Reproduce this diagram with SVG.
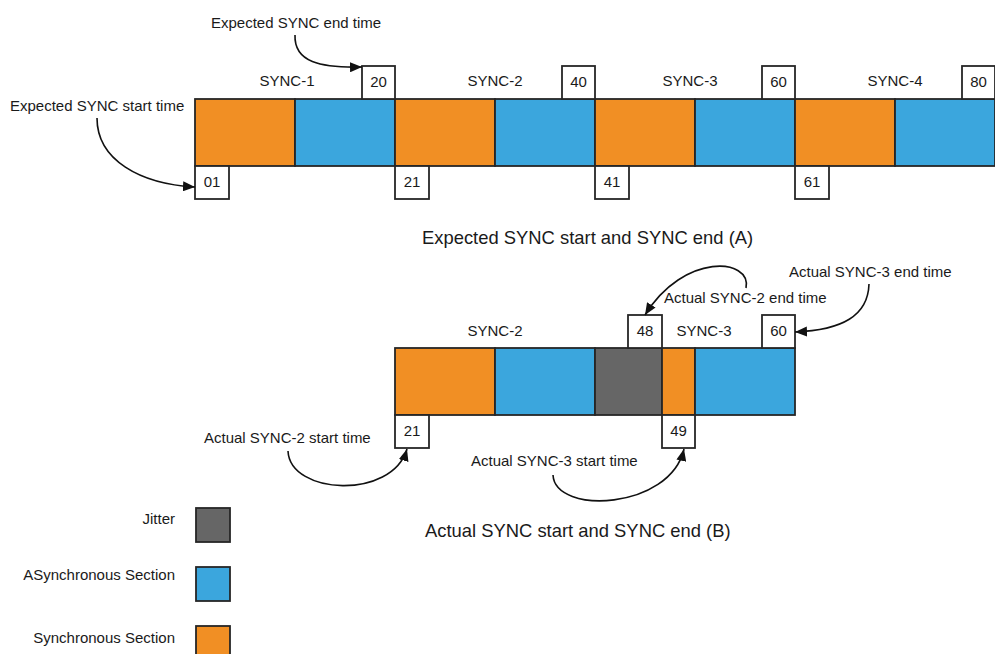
<svg xmlns="http://www.w3.org/2000/svg" width="995" height="654" viewBox="0 0 995 654">
  <style>
    text { font-family: "Liberation Sans", Arial, sans-serif; fill: #1a1a1a; }
    .lbl { font-size: 15px; }
    .num { font-size: 15px; text-anchor: middle; }
    .cap { font-size: 18.4px; }
    .end { text-anchor: end; }
    .sync { fill: #F18F24; stroke: #262626; stroke-width: 1.8; }
    .async { fill: #3BA6DD; stroke: #262626; stroke-width: 1.8; }
    .jit { fill: #666666; stroke: #262626; stroke-width: 1.8; }
    .box { fill: #fff; stroke: #262626; stroke-width: 1.8; }
    .conn { fill: none; stroke: #111; stroke-width: 1.6; marker-end: url(#head); }
  </style>
  <defs>
    <marker id="head" markerUnits="userSpaceOnUse" markerWidth="12" markerHeight="10" refX="12" refY="5" orient="auto">
      <path d="M0,0 L12,5 L0,10 z" fill="#111"/>
    </marker>
  </defs>

  <!-- Expected timeline (A) -->
  <g id="expected-bar">
    <rect class="sync" x="195" y="99" width="100" height="67"/>
    <rect class="async" x="295" y="99" width="100" height="67"/>
    <rect class="sync" x="395" y="99" width="100" height="67"/>
    <rect class="async" x="495" y="99" width="100" height="67"/>
    <rect class="sync" x="595" y="99" width="100" height="67"/>
    <rect class="async" x="695" y="99" width="100" height="67"/>
    <rect class="sync" x="795" y="99" width="100" height="67"/>
    <rect class="async" x="895" y="99" width="100" height="67"/>
  </g>
  <g id="expected-sync-labels">
    <text class="num" x="287" y="86">SYNC-1</text>
    <text class="num" x="495" y="86">SYNC-2</text>
    <text class="num" x="690" y="86">SYNC-3</text>
    <text class="num" x="895" y="86">SYNC-4</text>
  </g>
  <g id="expected-end-marks">
    <rect class="box" x="362" y="66" width="33" height="33"/><text class="num" x="378.5" y="87">20</text>
    <rect class="box" x="562" y="66" width="33" height="33"/><text class="num" x="578.5" y="87">40</text>
    <rect class="box" x="762" y="66" width="33" height="33"/><text class="num" x="778.5" y="87">60</text>
    <rect class="box" x="962" y="66" width="33" height="33"/><text class="num" x="978.5" y="87">80</text>
  </g>
  <g id="expected-start-marks">
    <rect class="box" x="195" y="166" width="34" height="33"/><text class="num" x="212" y="187">01</text>
    <rect class="box" x="395" y="166" width="34" height="33"/><text class="num" x="412" y="187">21</text>
    <rect class="box" x="595" y="166" width="34" height="33"/><text class="num" x="612" y="187">41</text>
    <rect class="box" x="795" y="166" width="34" height="33"/><text class="num" x="812" y="187">61</text>
  </g>
  <g id="expected-notes">
    <text class="lbl" x="211" y="27.5">Expected SYNC end time</text>
    <text class="lbl" x="10" y="111">Expected SYNC start time</text>
    <text class="cap" x="422" y="244">Expected SYNC start and SYNC end (A)</text>
  </g>

  <!-- Actual timeline (B) -->
  <g id="actual-bar">
    <rect class="sync" x="395" y="348" width="100" height="67"/>
    <rect class="async" x="495" y="348" width="100" height="67"/>
    <rect class="jit" x="595" y="348" width="67" height="67"/>
    <rect class="sync" x="662" y="348" width="33" height="67"/>
    <rect class="async" x="695" y="348" width="100" height="67"/>
  </g>
  <g id="actual-sync-labels">
    <text class="num" x="495" y="336">SYNC-2</text>
    <text class="num" x="704" y="336">SYNC-3</text>
  </g>
  <g id="actual-marks">
    <rect class="box" x="628" y="315" width="34" height="33"/><text class="num" x="645" y="336">48</text>
    <rect class="box" x="762" y="315" width="33" height="33"/><text class="num" x="778.5" y="336">60</text>
    <rect class="box" x="395" y="415" width="34" height="33"/><text class="num" x="412" y="436">21</text>
    <rect class="box" x="662" y="415" width="33" height="33"/><text class="num" x="678.5" y="436">49</text>
  </g>
  <g id="actual-notes">
    <text class="lbl" x="664" y="303">Actual SYNC-2 end time</text>
    <text class="lbl" x="789" y="277">Actual SYNC-3 end time</text>
    <text class="lbl" x="204" y="443">Actual SYNC-2 start time</text>
    <text class="lbl" x="471" y="466">Actual SYNC-3 start time</text>
    <text class="cap" x="425" y="537">Actual SYNC start and SYNC end (B)</text>
  </g>

  <!-- Legend -->
  <g id="legend-jitter">
    <text class="lbl end" x="175" y="524">Jitter</text>
    <rect class="jit" x="196" y="508" width="34" height="34"/>
  </g>
  <g id="legend-async">
    <text class="lbl end" x="175" y="580">ASynchronous Section</text>
    <rect class="async" x="196" y="567" width="34" height="34"/>
  </g>
  <g id="legend-sync">
    <text class="lbl end" x="175" y="643">Synchronous Section</text>
    <rect class="sync" x="196" y="626" width="34" height="34"/>
  </g>

  <!-- Curved pointers from notes to time marks -->
  <g id="connectors">
    <path class="conn" d="M295,35 C294,62 320,68 362,67"/>
    <path class="conn" d="M97,118 C97,160 140,184 195,187"/>
    <path class="conn" d="M746,288 C752,258 684,252 645,315"/>
    <path class="conn" d="M869,284 C868,316 842,330 795,332"/>
    <path class="conn" d="M288,451 C290,495 392,500 407,449"/>
    <path class="conn" d="M553,475 C555,515 670,510 684,449"/>
  </g>
</svg>
